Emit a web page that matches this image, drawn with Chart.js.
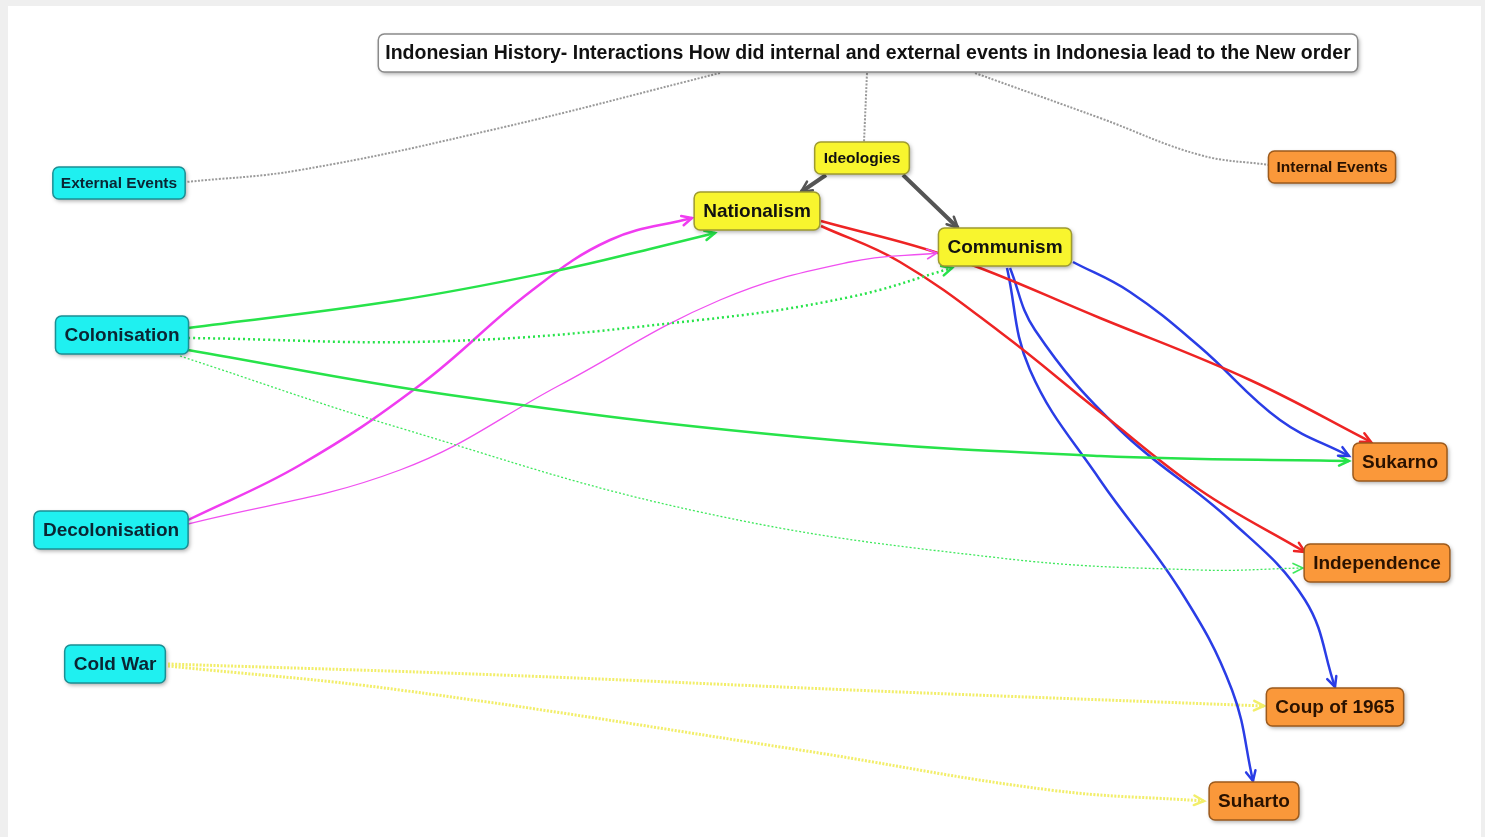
<!DOCTYPE html>
<html>
<head>
<meta charset="utf-8">
<script src="https://cdn.jsdelivr.net/npm/chart.js@4.4.0/dist/chart.umd.min.js"></script>
<style>
html, body { margin: 0; padding: 0; background: #efefef; overflow: hidden; }
#papel { position: absolute; left: 8px; top: 6px; width: 1473px; height: 831px; background: #fff; }
#wrap { position: absolute; left: 0; top: 0; width: 1485px; height: 837px; }
</style>
</head>
<body>
<div id="papel"></div>
<div id="wrap"><canvas id="mapa" width="1485" height="837"></canvas></div>
<script>
// nós do mapa (centro de cada caixa, em unidades do diagrama)
const nodeNames = ['Indonesian History- Interactions How did internal and external events in Indonesia lead to the New order',
    'Ideologies', 'Nationalism', 'Communism', 'External Events', 'Internal Events',
    'Colonisation', 'Decolonisation', 'Cold War', 'Sukarno', 'Independence', 'Coup of 1965', 'Suharto'];
const nodeX = [868, 862, 757, 1005, 119, 1332, 122, 111, 115, 1400, 1377, 1335, 1254];
const nodeY = [53, 158, 211, 247, 183, 167, 335, 530, 664, 462, 563, 707, 801];
const nodeKind = ['title', 'yellowSmall', 'yellow', 'yellow', 'cyanSmall', 'orangeSmall',
    'cyan', 'cyan', 'cyan', 'orange', 'orange', 'orange', 'orange'];

// ligações entre os nós
const edgeFrom = ['Indonesian History', 'Indonesian History', 'Indonesian History', 'Ideologies', 'Ideologies',
    'Colonisation', 'Colonisation', 'Colonisation', 'Colonisation', 'Decolonisation', 'Decolonisation',
    'Nationalism', 'Nationalism', 'Communism', 'Communism', 'Communism', 'Cold War', 'Cold War'];
const edgeTo = ['External Events', 'Ideologies', 'Internal Events', 'Nationalism', 'Communism',
    'Nationalism', 'Communism', 'Sukarno', 'Independence', 'Nationalism', 'Communism',
    'Sukarno', 'Independence', 'Sukarno', 'Coup of 1965', 'Suharto', 'Coup of 1965', 'Suharto'];
const edgeKind = ['greyDot', 'greyDot', 'greyDot', 'dark', 'dark',
    'green', 'greenDot', 'green', 'greenDotThin', 'magenta', 'magentaThin',
    'red', 'red', 'blue', 'blue', 'blue', 'yellowDot', 'yellowDot'];
// pontos lidos ao longo de cada curva
const edgePaths = [
    [[720, 73], [500, 128], [300, 170], [186, 182]],
    [[867, 73], [864, 142]],
    [[975, 73], [1100, 118], [1200, 155], [1270, 165]],
    [[826, 175], [801, 192]],
    [[903, 175], [930, 201], [958, 228]],
    [[188, 328], [400, 300], [560, 270], [650, 249], [715, 233]],
    [[188, 338], [450, 341], [700, 320], [850, 297], [952, 268]],
    [[188, 350], [450, 395], [800, 437], [1100, 456], [1349, 461]],
    [[180, 356], [400, 428], [700, 512], [1000, 558], [1200, 570], [1303, 568]],
    [[188, 520], [300, 465], [420, 385], [530, 292], [610, 240], [692, 218]],
    [[188, 524], [400, 470], [560, 385], [720, 300], [850, 262], [937, 253]],
    [[821, 221], [950, 257], [1100, 318], [1250, 380], [1371, 442]],
    [[821, 226], [900, 262], [1000, 332], [1100, 412], [1200, 490], [1305, 552]],
    [[1073, 262], [1130, 292], [1200, 347], [1280, 420], [1349, 456]],
    [[1010, 268], [1035, 330], [1120, 430], [1230, 520], [1305, 600], [1335, 687]],
    [[1007, 268], [1030, 370], [1100, 480], [1180, 590], [1232, 690], [1253, 781]],
    [[168, 664], [500, 675], [900, 692], [1264, 706]],
    [[168, 666], [400, 690], [800, 750], [1050, 790], [1204, 801]]
];

const estilosLinha = {
    greyDot:      { cor: '#9a9a9a', largura: 2,   tracejado: [2, 1.5], seta: false },
    dark:         { cor: '#555555', largura: 4,   tracejado: [],     seta: true },
    green:        { cor: '#27e34a', largura: 2.5, tracejado: [],     seta: true },
    greenDot:     { cor: '#27e34a', largura: 2.5, tracejado: [2, 3], seta: true },
    greenDotThin: { cor: '#3ee85c', largura: 1.3, tracejado: [2, 2], seta: true },
    magenta:      { cor: '#f03cf0', largura: 2.5, tracejado: [],     seta: true },
    magentaThin:  { cor: '#f050f0', largura: 1.3, tracejado: [],     seta: true },
    red:          { cor: '#ee2424', largura: 2.5, tracejado: [],     seta: true },
    blue:         { cor: '#2a3de6', largura: 2.5, tracejado: [],     seta: true },
    yellowDot:    { cor: '#f2ee6a', largura: 3,   tracejado: [2, 1.5], seta: true }
};

const estilosNo = {
    title:       { fundo: '#ffffff', borda: '#8a8a8a', texto: '#111111', fonte: 19.5, altura: 38, pad: 7 },
    yellow:      { fundo: '#f8f52e', borda: '#9e9b30', texto: '#111111', fonte: 19, altura: 38, pad: 9 },
    yellowSmall: { fundo: '#f8f52e', borda: '#9e9b30', texto: '#111111', fonte: 15.5, altura: 32, pad: 9 },
    cyan:        { fundo: '#1ff0f0', borda: '#1b8f94', texto: '#0b2533', fonte: 19, altura: 38, pad: 9 },
    cyanSmall:   { fundo: '#1ff0f0', borda: '#1b8f94', texto: '#0b2533', fonte: 15.5, altura: 32, pad: 8 },
    orange:      { fundo: '#fa983a', borda: '#9c5a1c', texto: '#2a1200', fonte: 19, altura: 38, pad: 9 },
    orangeSmall: { fundo: '#fa983a', borda: '#9c5a1c', texto: '#2a1200', fonte: 15.5, altura: 32, pad: 8 }
};

const familia = '"Liberation Sans", Arial, Helvetica, sans-serif';

const datasetsLinhas = edgePaths.map((caminho, i) => {
    const st = estilosLinha[edgeKind[i]];
    return {
        label: edgeFrom[i] + ' → ' + edgeTo[i],
        data: caminho.map(p => ({ x: p[0], y: p[1] })),
        showLine: true,
        borderColor: st.cor,
        backgroundColor: st.cor,
        borderWidth: st.largura,
        borderDash: st.tracejado,
        borderCapStyle: 'butt',
        tension: 0.4,
        pointRadius: 0,
        pointHoverRadius: 0
    };
});

const indiceNos = datasetsLinhas.length;
const datasetNos = {
    label: 'nos',
    data: nodeX.map((x, i) => ({ x: x, y: nodeY[i] })),
    showLine: false,
    pointRadius: 0,
    pointHoverRadius: 0
};

// desenha as pontas de seta no fim de cada ligação
const pluginSetas = {
    id: 'setas',
    afterDatasetsDraw(chart) {
        const ctx = chart.ctx;
        for (let i = 0; i < indiceNos; i++) {
            const st = estilosLinha[edgeKind[i]];
            if (!st.seta) continue;
            const pts = chart.getDatasetMeta(i).data;
            const fim = pts[pts.length - 1];
            let cx = fim.cp1x, cy = fim.cp1y;
            if (cx === undefined || Math.hypot(fim.x - cx, fim.y - cy) < 1) {
                cx = pts[pts.length - 2].x; cy = pts[pts.length - 2].y;
            }
            const ang = Math.atan2(fim.y - cy, fim.x - cx);
            const tam = st.largura > 3 ? 12 : 11;
            ctx.save();
            ctx.strokeStyle = st.cor;
            ctx.lineWidth = Math.max(1.6, Math.min(st.largura, 2.5));
            ctx.lineCap = 'round';
            ctx.beginPath();
            ctx.moveTo(fim.x - tam * Math.cos(ang - 0.45), fim.y - tam * Math.sin(ang - 0.45));
            ctx.lineTo(fim.x, fim.y);
            ctx.lineTo(fim.x - tam * Math.cos(ang + 0.45), fim.y - tam * Math.sin(ang + 0.45));
            ctx.stroke();
            ctx.restore();
        }
    }
};

// desenha as caixas dos nós por cima das ligações
const pluginCaixas = {
    id: 'caixas',
    afterDatasetsDraw(chart) {
        const ctx = chart.ctx;
        const pts = chart.getDatasetMeta(indiceNos).data;
        pts.forEach((el, i) => {
            const st = estilosNo[nodeKind[i]];
            ctx.save();
            ctx.font = 'bold ' + st.fonte + 'px ' + familia;
            const w = ctx.measureText(nodeNames[i]).width + st.pad * 2;
            const h = st.altura;
            const x0 = el.x - w / 2, y0 = el.y - h / 2;
            ctx.shadowColor = 'rgba(0,0,0,0.35)';
            ctx.shadowBlur = 4;
            ctx.shadowOffsetX = 1.5;
            ctx.shadowOffsetY = 2;
            ctx.beginPath();
            ctx.roundRect(x0, y0, w, h, 6);
            ctx.fillStyle = st.fundo;
            ctx.fill();
            ctx.shadowColor = 'transparent';
            ctx.lineWidth = 1.5;
            ctx.strokeStyle = st.borda;
            ctx.stroke();
            ctx.fillStyle = st.texto;
            ctx.textAlign = 'center';
            ctx.textBaseline = 'middle';
            ctx.fillText(nodeNames[i], el.x, el.y + 1);
            ctx.restore();
        });
    }
};

new Chart(document.getElementById('mapa'), {
    type: 'scatter',
    data: { datasets: [...datasetsLinhas, datasetNos] },
    options: {
        responsive: false,
        animation: false,
        devicePixelRatio: 1,
        layout: { padding: 0 },
        plugins: { legend: { display: false }, tooltip: { enabled: false } },
        scales: {
            x: { type: 'linear', min: 0, max: 1485, display: false },
            y: { type: 'linear', min: 0, max: 837, reverse: true, display: false }
        }
    },
    plugins: [pluginSetas, pluginCaixas]
});
</script>
</body>
</html>
